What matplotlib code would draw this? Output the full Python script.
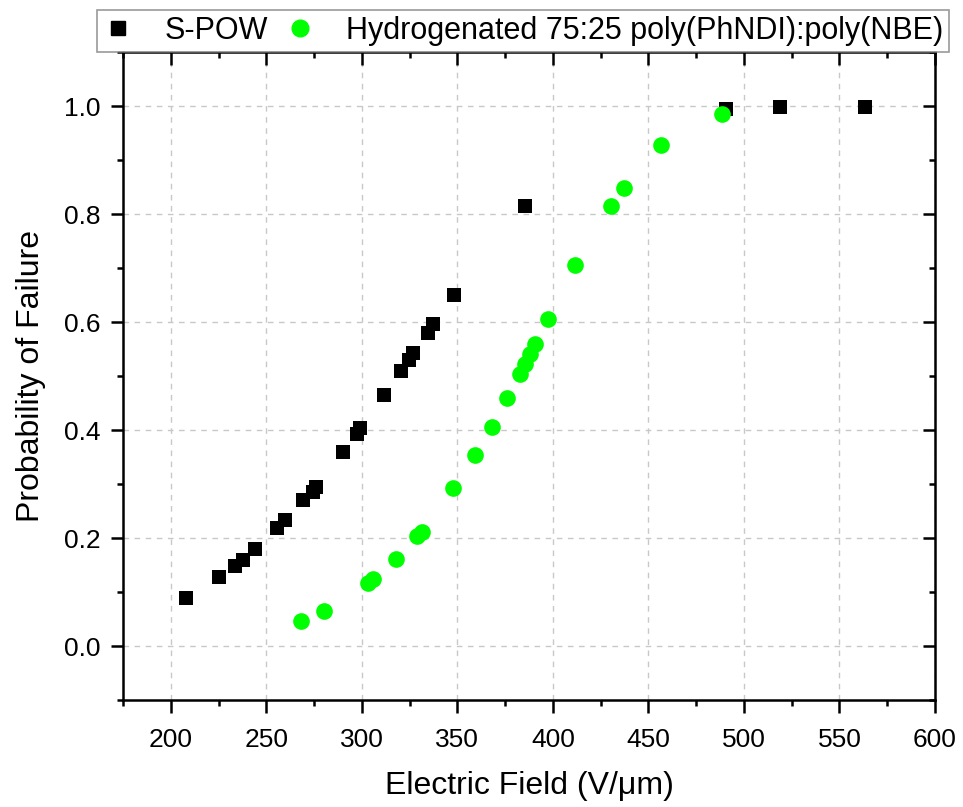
import matplotlib
matplotlib.use('Agg')
import matplotlib.pyplot as plt
from matplotlib.ticker import MultipleLocator
from matplotlib.lines import Line2D

plt.rcParams['font.family'] = ['Liberation Sans', 'DejaVu Sans']

# S-POW
spow_x = [208.0, 225.2, 233.8, 237.6, 244.3, 255.8, 260.0, 269.4, 274.3, 276.0,
          290.2, 297.3, 299.0, 311.6, 320.7, 324.5, 327.0, 334.4, 337.4, 348.2,
          385.3, 490.6, 518.9, 563.2]
spow_y = [0.088, 0.127, 0.149, 0.160, 0.179, 0.219, 0.233, 0.270, 0.286, 0.294,
          0.359, 0.393, 0.404, 0.464, 0.509, 0.530, 0.542, 0.580, 0.596, 0.650,
          0.814, 0.995, 0.999, 0.999]

# Hydrogenated 75:25 poly(PhNDI):poly(NBE)
hyd_x = [268.0, 280.0, 303.4, 306.0, 317.9, 328.7, 331.3, 347.9, 359.2, 368.0,
         376.0, 382.6, 385.2, 388.0, 390.6, 397.6, 411.5, 430.3, 437.2, 456.6,
         488.5]
hyd_y = [0.047, 0.065, 0.116, 0.124, 0.161, 0.203, 0.212, 0.292, 0.354, 0.406,
         0.459, 0.504, 0.522, 0.541, 0.560, 0.606, 0.705, 0.814, 0.849, 0.927,
         0.986]

labels = ['S-POW', 'Hydrogenated 75:25 poly(PhNDI):poly(NBE)']

fig = plt.figure(figsize=(9.63, 8.07), dpi=100)
ax = fig.add_axes([123/963, 107/807, 812/963, 648/807])

ax.scatter(spow_x, spow_y, marker='s', s=10.5**2, color='black', linewidths=0, zorder=3)
ax.scatter(hyd_x, hyd_y, marker='o', s=12**2, color='#00ff00', linewidths=0, zorder=3)

ax.set_xlim(175, 600)
ax.set_ylim(-0.1, 1.1)
ax.xaxis.set_minor_locator(MultipleLocator(25))
ax.yaxis.set_minor_locator(MultipleLocator(0.1))
ax.set_yticks([0.0, 0.2, 0.4, 0.6, 0.8, 1.0])
ax.set_xticks(range(200, 601, 50))
ax.set_yticklabels(['0.0', '0.2', '0.4', '0.6', '0.8', '1.0'])

ax.grid(True, which='major', color='#c8c8c8', linestyle=(0, (4, 4)), linewidth=1)

for s in ax.spines.values():
    s.set_linewidth(1.8)

ax.tick_params(axis='both', which='major', labelsize=19, length=9, width=1.8,
               pad=7, top=True, right=True, direction='out')
ax.tick_params(axis='both', which='minor', length=4.5, width=1.8, top=True, right=True,
               direction='out')
ax.tick_params(axis='x', which='major', pad=11)
# top/right ticks point inward
for t in ax.xaxis.get_major_ticks() + ax.xaxis.get_minor_ticks():
    t.tick2line.set_marker(3)
for t in ax.yaxis.get_major_ticks() + ax.yaxis.get_minor_ticks():
    t.tick2line.set_marker(0)

ax.set_xlabel('Electric Field (V/\u03bcm)', fontsize=23, labelpad=14)
ax.set_ylabel('Probability of Failure', fontsize=23, labelpad=13)

handles = [Line2D([], [], marker='s', color='black', linestyle='none', markersize=10.5),
           Line2D([], [], marker='o', color='#00ff00', linestyle='none', markersize=12)]
leg = fig.legend(handles, labels, loc='center left', bbox_to_anchor=(97/963, 1 - 31/807),
                 ncol=2, fontsize=22, frameon=True, fancybox=False, borderaxespad=0,
                 handlelength=1.0, handletextpad=1.0, columnspacing=0.55, borderpad=0.2)
leg.get_frame().set_edgecolor('#808080')
leg.get_frame().set_linewidth(1.2)

fig.savefig('out.png', dpi=100)
